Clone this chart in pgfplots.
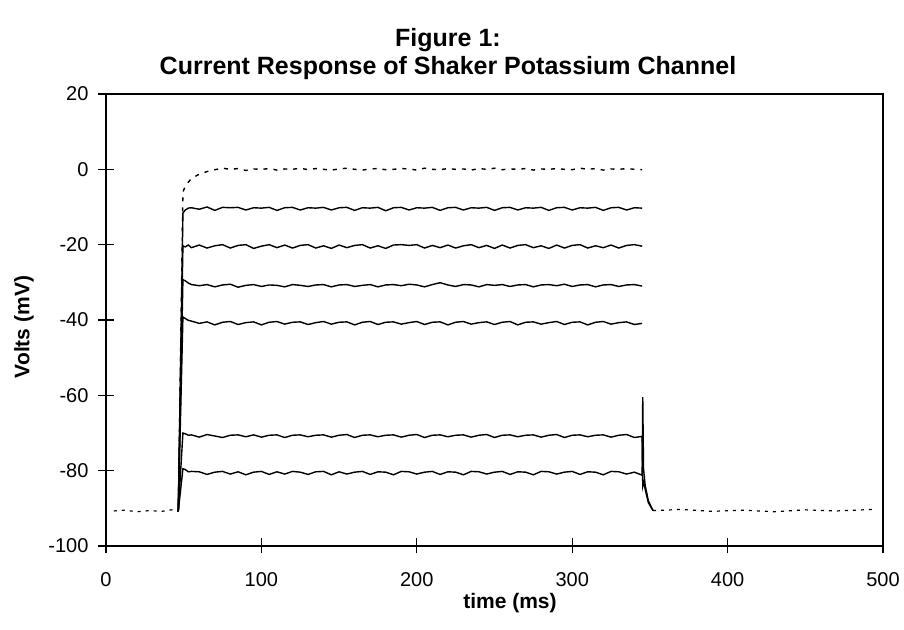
\documentclass[border=0pt]{standalone}
\usepackage{pgfplots}
\usepackage{pgfplotstable}
\pgfplotsset{compat=1.18}
\usepackage{fontspec}
\setmainfont{Liberation Sans}

\pgfplotstableread{
x A B C D E F G
46.5 -90.8 -90.8 -90.8 -90.8 -90.8 -90.8 -90.8
49.5 -6.0 -11.6 -20.3 -29.3 -39.2 -70.0 -79.5
51 -4.5 -10.8 -20.6 -29.6 -39.6 -70.2 -79.7
53 -3.4 -10.3 -20.1 -30.2 -40.1 -70.6 -80.3
55 -2.4 -10.2 -20.8 -30.6 -40.3 -70.5 -80.2
60 -1.3 -10.6 -20.1 -30.9 -40.9 -71.1 -80.3
65 -0.6 -10.0 -20.9 -30.6 -40.5 -70.4 -81.0
70 -0.1 -10.9 -20.3 -31.2 -41.3 -70.8 -80.4
75 0.3 -10.1 -20.0 -30.7 -40.6 -71.2 -80.2
80 0.0 -10.2 -20.9 -30.5 -40.4 -70.6 -80.9
85 0.2 -10.1 -20.2 -31.3 -41.2 -70.5 -80.3
90 -0.3 -10.8 -20.0 -30.8 -40.7 -71.0 -81.1
95 0.1 -10.2 -21.0 -30.6 -40.5 -70.5 -80.4
100 0.0 -10.3 -20.4 -31.1 -41.3 -71.1 -80.2
105 0.2 -10.1 -20.0 -30.7 -40.6 -70.6 -81.0
110 -0.2 -10.9 -20.8 -30.8 -40.4 -70.5 -80.3
115 0.1 -10.2 -20.1 -31.2 -41.1 -71.2 -80.9
120 0.0 -10.1 -20.9 -30.6 -40.6 -70.6 -80.2
125 0.3 -10.8 -20.2 -30.8 -40.5 -70.5 -80.4
130 -0.1 -10.2 -20.0 -31.1 -41.2 -71.0 -81.0
135 0.2 -10.3 -20.9 -30.7 -40.7 -70.6 -80.3
140 0.0 -10.1 -20.3 -30.6 -40.4 -70.5 -80.2
145 -0.2 -10.8 -21.0 -31.2 -41.1 -71.1 -81.1
150 0.1 -10.2 -20.1 -30.7 -40.6 -70.6 -80.3
155 0.3 -10.1 -20.8 -30.6 -40.5 -70.4 -80.9
160 0.0 -10.9 -20.2 -31.1 -41.3 -71.2 -80.4
165 -0.2 -10.2 -20.0 -30.8 -40.6 -70.6 -80.2
170 0.1 -10.3 -20.9 -30.6 -40.4 -70.5 -81.0
175 0.2 -10.1 -20.3 -31.2 -41.2 -71.0 -80.3
180 -0.1 -11.0 -21.0 -30.7 -40.6 -70.6 -80.4
185 0.0 -10.2 -20.1 -30.6 -40.5 -70.5 -81.1
190 0.2 -10.1 -20.0 -30.9 -41.1 -71.1 -80.2
195 0.1 -10.8 -20.2 -30.5 -40.7 -70.6 -80.3
200 -0.2 -10.2 -20.0 -30.7 -40.4 -70.4 -80.9
205 0.3 -10.3 -20.9 -31.2 -41.2 -71.2 -80.4
210 0.0 -10.1 -20.2 -30.6 -40.6 -70.6 -80.2
215 -0.1 -10.9 -20.8 -30.1 -40.5 -70.5 -81.0
220 0.2 -10.2 -20.1 -30.7 -41.3 -71.0 -80.3
225 0.0 -10.1 -20.9 -31.1 -40.6 -70.6 -80.4
230 0.1 -10.8 -20.3 -30.6 -40.4 -70.5 -81.1
235 -0.2 -10.2 -20.0 -30.7 -41.1 -71.1 -80.2
240 0.2 -10.3 -20.8 -31.2 -40.7 -70.6 -80.3
245 0.0 -10.1 -20.2 -30.6 -40.5 -70.4 -80.9
250 0.3 -10.9 -21.0 -30.8 -41.2 -71.2 -80.4
255 -0.1 -10.2 -20.1 -30.6 -40.6 -70.6 -80.2
260 0.1 -10.1 -20.9 -31.1 -40.4 -70.5 -81.0
265 0.0 -10.8 -20.2 -30.7 -41.3 -71.0 -80.3
270 0.2 -10.2 -20.0 -30.6 -40.6 -70.6 -80.4
275 -0.2 -10.3 -20.8 -31.2 -40.5 -70.5 -81.1
280 0.1 -10.1 -20.3 -30.7 -41.1 -71.1 -80.2
285 0.0 -10.9 -21.0 -30.6 -40.7 -70.6 -80.3
290 0.2 -10.2 -20.1 -30.9 -40.4 -70.4 -80.9
295 0.0 -10.1 -20.9 -30.5 -41.2 -71.2 -80.4
300 -0.1 -10.8 -20.2 -31.1 -40.6 -70.6 -80.2
305 0.3 -10.2 -20.0 -30.7 -40.5 -70.5 -81.0
310 0.0 -10.3 -20.9 -30.6 -41.3 -71.0 -80.3
315 0.2 -10.1 -20.3 -31.2 -40.6 -70.6 -80.4
320 -0.2 -10.9 -20.8 -30.7 -40.4 -70.5 -81.1
325 0.1 -10.2 -20.1 -30.6 -41.1 -71.1 -80.2
330 0.0 -10.1 -20.9 -31.1 -40.7 -70.6 -80.3
335 0.2 -10.8 -20.2 -30.7 -40.5 -70.4 -80.9
340 0.0 -10.2 -20.0 -30.6 -41.2 -71.2 -80.4
345 -0.1 -10.3 -20.4 -31.0 -40.9 -70.9 -81.2
345.4 nan nan nan nan nan -84.0 -60.5
345.9 nan nan nan nan nan -83.0 -79.5
347 nan nan nan nan nan -85.0 -84.0
349 nan nan nan nan nan -88.5 -88.0
352 nan nan nan nan nan -90.6 -90.6
}\traces

\begin{document}
\begin{tikzpicture}
\begin{axis}[
  scale only axis,
  width=388.5pt, height=226pt,
  xmin=0, xmax=500, ymin=-100, ymax=20,
  xtick={0,100,...,500}, ytick={-100,-80,...,20},
  xtick pos=bottom, ytick pos=left,
  tick align=center,
  major tick length=7.5pt,
  tick style={black, line width=0.6pt},
  axis line style={black, line width=0.9pt},
  ticklabel style={font=\fontsize{10}{12}\selectfont},
  /pgf/number format/assume math mode=true,
  yticklabel style={xshift=-1.5pt},
  xticklabel style={yshift=-6pt},
  unbounded coords=jump,
]
\addplot[black, line width=0.7pt, dash pattern=on 2pt off 3pt] table[x=x,y=A] {\traces};
\addplot[black, line width=0.7pt] table[x=x,y=B] {\traces};
\addplot[black, line width=0.7pt] table[x=x,y=C] {\traces};
\addplot[black, line width=0.7pt] table[x=x,y=D] {\traces};
\addplot[black, line width=0.7pt] table[x=x,y=E] {\traces};
\addplot[black, line width=0.7pt] table[x=x,y=F] {\traces};
\addplot[black, line width=0.7pt] table[x=x,y=G] {\traces};
\addplot[black, dash pattern=on 1.5pt off 2.5pt, line width=0.6pt] coordinates {
 (5,-90.7) (12,-90.5) (20,-90.9) (28,-90.6) (36,-90.8) (42,-90.4) (46.5,-90.8)};
\addplot[black, dash pattern=on 1.5pt off 2.5pt, line width=0.6pt] coordinates {
 (352,-90.6) (370,-90.3) (390,-90.8) (410,-90.5) (430,-90.9) (450,-90.4) (470,-90.7) (493,-90.3)};
\end{axis}
\node[anchor=south, inner sep=0pt, align=center,
      font=\fontsize{12.5}{14}\selectfont\bfseries]
  at ([xshift=-23.25pt, yshift=7pt]current axis.north)
  {Figure 1:\\Current Response of Shaker Potassium Channel};
\node[font=\fontsize{10.5}{12}\selectfont\bfseries]
  at ([xshift=7.75pt, yshift=-28.5pt]current axis.south) {time (ms)};
\node[rotate=90, font=\fontsize{10.5}{12}\selectfont\bfseries]
  at ([xshift=-41pt, yshift=-3.5pt]current axis.west) {Volts (mV)};
\pgfresetboundingbox
\path ([shift={(-53pt,-42pt)}]current axis.south west)
  rectangle ([shift={(10.5pt,47pt)}]current axis.north east);
\end{tikzpicture}
\end{document}
